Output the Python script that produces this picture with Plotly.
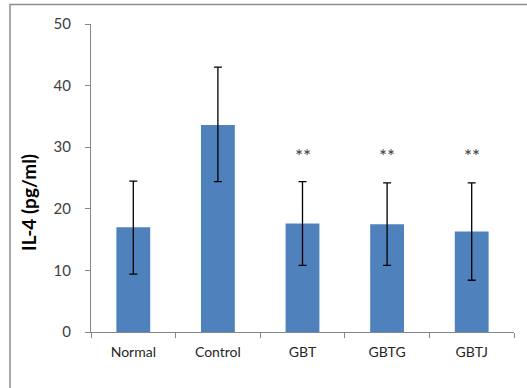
import plotly.graph_objects as go

categories = ["Normal", "Control", "GBT", "GBTG", "GBTJ"]
means = [17.0, 33.6, 17.6, 17.5, 16.3]
err_plus = [7.5, 9.4, 6.8, 6.7, 7.9]
err_minus = [7.6, 9.2, 6.8, 6.7, 7.9]
sig_labels = ["", "", "**", "**", "**"]
sig_y = 28.7
y_ticks = [0, 10, 20, 30, 40, 50]

FONT = "Lato, Open Sans, sans-serif"

fig = go.Figure()
fig.add_trace(go.Bar(
    x=categories, y=means, width=0.4,
    marker=dict(color="#4F81BD", line=dict(color="#4F81BD", width=0)),
    error_y=dict(type="data", array=err_plus, arrayminus=err_minus,
                 color="#000000", thickness=1.3, width=4, symmetric=False),
    hoverinfo="skip",
))

for c, s in zip(categories, sig_labels):
    if s:
        fig.add_annotation(x=c, y=sig_y, text=s, showarrow=False,
                           font=dict(family=FONT, size=19, color="#404040"))

fig.add_annotation(xref="paper", yref="paper", x=(28 - 91) / 423, y=(332 - 203) / 308,
                   xanchor="center", yanchor="middle",
                   text="<b>IL-4 (pg/ml)</b>", textangle=-90, showarrow=False,
                   font=dict(family=FONT, size=19, color="#000000"))

fig.add_shape(type="rect", xref="paper", yref="paper",
              x0=-0.1915, x1=1.08, y0=-0.25, y1=1.0633,
              line=dict(color="#8c8c8c", width=1.5), fillcolor="rgba(0,0,0,0)", layer="below")

fig.update_layout(
    width=527, height=388,
    margin=dict(l=91, r=13, t=24, b=56),
    paper_bgcolor="white", plot_bgcolor="white",
    showlegend=False,
    font=dict(family=FONT, color="#404040"),
    xaxis=dict(
        automargin=False,
        showline=True, linecolor="#868686", linewidth=1,
        ticks="outside", tickson="boundaries", ticklen=5, tickcolor="#868686",
        tickfont=dict(size=14, color="#262626"),
        ticklabelstandoff=7,
        showgrid=False, zeroline=False,
    ),
    yaxis=dict(
        automargin=False,
        range=[0, 50], tickvals=y_ticks,
        showline=True, linecolor="#868686", linewidth=1,
        ticks="outside", ticklen=5, tickcolor="#868686",
        tickfont=dict(size=15, color="#404040"),
        ticklabelstandoff=11,
        showgrid=False, zeroline=False,
    ),
)

fig.write_html("out.html", config={"displayModeBar": False},
               post_script="document.body.style.margin='0';document.body.style.padding='0';")
